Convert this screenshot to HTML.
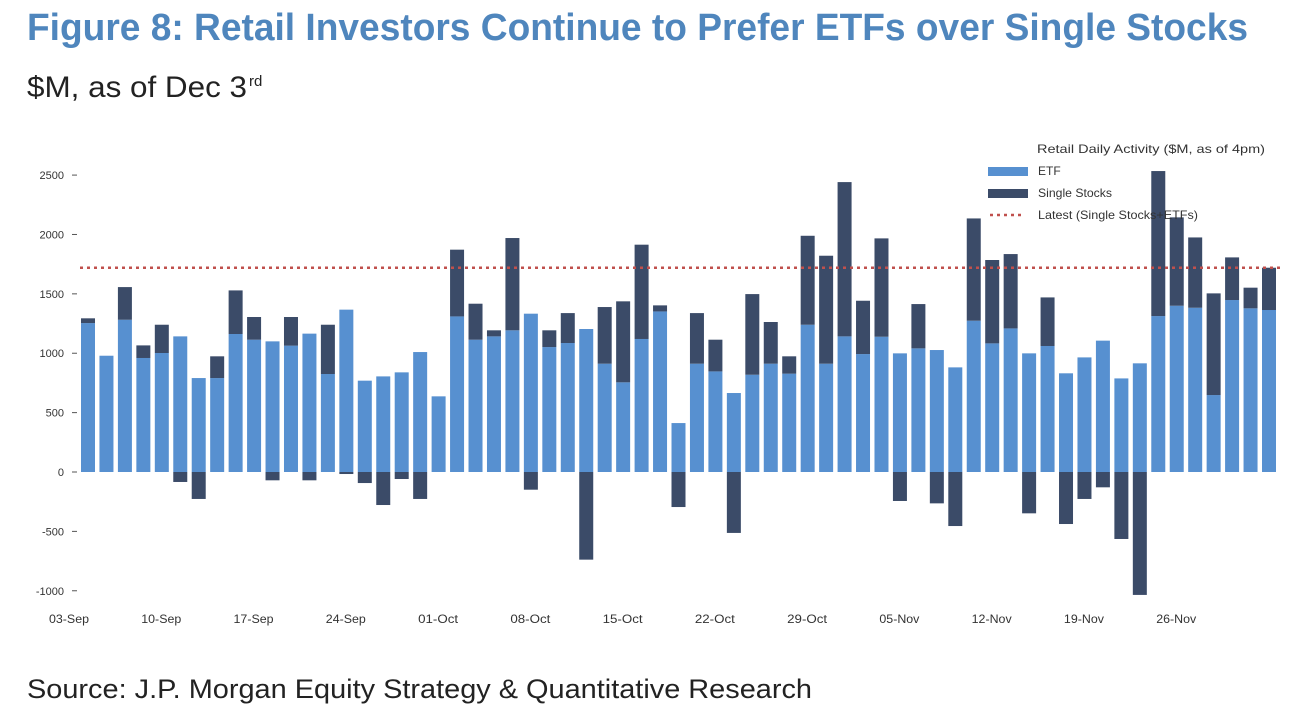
<!DOCTYPE html>
<html><head><meta charset="utf-8"><style>
html,body{margin:0;padding:0;background:#fff;}
svg{display:block;font-family:"Liberation Sans",Arial,sans-serif;}
</style></head><body>
<svg id="chart" width="1291" height="712" viewBox="0 0 1291 712" xmlns="http://www.w3.org/2000/svg">
<text x="27" y="40" font-size="38" font-weight="bold" fill="#4f86bd" textLength="1221" lengthAdjust="spacingAndGlyphs">Figure 8: Retail Investors Continue to Prefer ETFs over Single Stocks</text>
<text x="27" y="97" font-size="30" fill="#222" textLength="220" lengthAdjust="spacingAndGlyphs">$M, as of Dec 3</text>
<text x="249" y="86" font-size="15" fill="#222">rd</text>
<text x="27" y="698" font-size="27" fill="#222" textLength="785" lengthAdjust="spacingAndGlyphs">Source: J.P. Morgan Equity Strategy &amp; Quantitative Research</text>
<g id="plot"></g>
<g>
<text x="1037" y="153" font-size="12" fill="#333" textLength="228" lengthAdjust="spacingAndGlyphs">Retail Daily Activity ($M, as of 4pm)</text>
<rect x="988" y="167" width="40" height="9" fill="#5790d0"/>
<text x="1038" y="175" font-size="12" fill="#333">ETF</text>
<rect x="988" y="189" width="40" height="9" fill="#3b4b68"/>
<text x="1038" y="197" font-size="12" fill="#333" textLength="74" lengthAdjust="spacingAndGlyphs">Single Stocks</text>
<line x1="990" y1="215" x2="1021" y2="215" stroke="#c0504d" stroke-width="2.5" stroke-dasharray="3,4"/>
<text x="1038" y="219" font-size="12" fill="#333" textLength="160" lengthAdjust="spacingAndGlyphs">Latest (Single Stocks+ETFs)</text>
</g>
</svg>
<script>
const etfValues=[1254,979,1282,960,1002,1142,791,791,1162,1114,1100,1064,1165,825,1367,769,805,839,1010,637,
1310,1114,1142,1193,1333,1052,1086,1204,912,755,1120,1352,412,912,847,665,819,912,828,1240,912,1142,
993,1139,999,1041,1027,881,1274,1083,1209,999,1061,831,965,1106,788,915,1313,1400,1383,648,1448,1378,1364];
const singleStockValues=[40,0,275,106,238,-84,-227,183,367,191,-70,241,-70,415,-17,-93,-278,-59,-227,0,
562,303,51,777,-149,141,252,-738,477,682,794,51,-295,426,267,-513,679,351,146,749,909,1299,
449,828,-244,373,-264,-455,861,702,626,-348,409,-438,-227,-129,-564,-1035,1221,744,592,856,359,174,356];
const latestValue=1720;
const yTicks=[2500,2000,1500,1000,500,0,-500,-1000];
const xTickLabels=["03-Sep","10-Sep","17-Sep","24-Sep","01-Oct","08-Oct","15-Oct","22-Oct","29-Oct","05-Nov","12-Nov","19-Nov","26-Nov"];
const xTickIndex=[0,5,10,15,20,25,30,35,40,45,50,55,60];

const NS="http://www.w3.org/2000/svg";
const g=document.getElementById('plot');
const y0=472, pxPer=1/8.42;
function yScale(v){return y0-v*pxPer;}
function xCenter(i){return 88+i*(1269-88)/(etfValues.length-1);}
const bw=14;
function mk(tag,attrs){const e=document.createElementNS(NS,tag);for(const k in attrs)e.setAttribute(k,attrs[k]);g.appendChild(e);return e;}

yTicks.forEach(v=>{
  const t=mk('text',{x:64,y:yScale(v)+4,'font-size':11,fill:'#333','text-anchor':'end'});
  t.textContent=v;
  
  
  const l=mk('line',{x1:72,x2:77,y1:yScale(v),y2:yScale(v),stroke:'#555','stroke-width':1});
  
  
});
xTickLabels.forEach((s,k)=>{
  const t=mk('text',{x:xCenter(xTickIndex[k])+1,y:623,'font-size':12,fill:'#333','text-anchor':'end',textLength:40,lengthAdjust:'spacingAndGlyphs'});
  t.textContent=s;
  
  
});
etfValues.forEach((v,i)=>{
  const x=xCenter(i)-bw/2;
  const r=mk('rect',{x:x,y:yScale(v),width:bw,height:y0-yScale(v),fill:'#5790d0'});
  
  
  const s=singleStockValues[i];
  if(s!==0){
    let top,h;
    if(s>0){top=yScale(v+s);h=yScale(v)-top;}else{top=y0;h=yScale(s)-y0;}
    const r2=mk('rect',{x:x,y:top,width:bw,height:h,fill:'#3b4b68'});
    
    
  }
});
const ll=mk('line',{x1:80,x2:1280,y1:yScale(latestValue),y2:yScale(latestValue),stroke:'#c0504d','stroke-width':2.5,'stroke-dasharray':'3,4'});


</script>
</body></html>
